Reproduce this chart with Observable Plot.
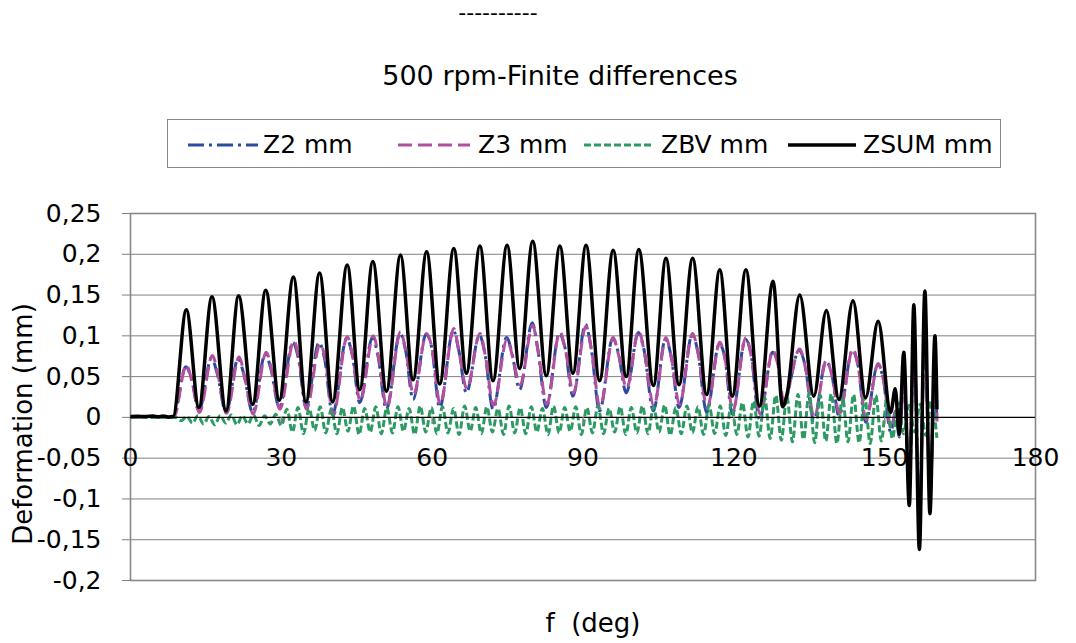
<!DOCTYPE html>
<html><head><meta charset="utf-8">
<script src="https://cdn.jsdelivr.net/npm/d3@7"></script>
<script src="https://cdn.jsdelivr.net/npm/@observablehq/plot@0.6"></script>
<style>
body{margin:0;background:#fff;font-family:"DejaVu Sans",Verdana,sans-serif;}
#wrap{position:relative;width:1076px;height:643px;overflow:hidden;background:#fff;}
#wrap svg.plot{position:absolute;left:0;top:0;}
.abs{position:absolute;white-space:pre;color:#000;line-height:1;}
</style></head><body><div id="wrap"></div>
<script>
// ---- data (deg, mm) ----
const chartTitleTop = "----------";
const chartTitle = "500 rpm-Finite differences";
const xLabel = "f\u00a0 (deg)";
const yLabel = "Deformation (mm)";
const xTicks = [0, 30, 60, 90, 120, 150, 180];
const yTicks = [-0.2, -0.15, -0.1, -0.05, 0, 0.05, 0.1, 0.15, 0.2, 0.25];
const seriesNames = ["Z2 mm", "Z3 mm", "ZBV mm", "ZSUM mm"];

const zsum = [[0,0.001],[1.5,0.0015],[3,0.001],[4.5,0.0018],[5.5,0.0008],[6.5,0.0018],[7.5,0.0005],[8.5,0.001],
[11.1,0.132],[13.6,0.012],[16.2,0.148],[19.0,0.008],[21.5,0.149],[24.3,0.016],[26.9,0.156],[29.6,0.021],
[32.4,0.172],[34.9,0.019],[37.6,0.177],[40.2,0.019],[43.1,0.187],[45.6,0.034],[48.2,0.191],[50.9,0.032],
[53.7,0.199],[56.2,0.046],[58.9,0.203],[61.5,0.041],[64.3,0.207],[66.8,0.054],[69.5,0.210],[72.1,0.045],
[74.9,0.211],[77.4,0.060],[80.0,0.216],[82.7,0.051],[85.4,0.210],[88.0,0.054],[90.6,0.211],[93.3,0.045],
[96.0,0.205],[98.6,0.050],[101.1,0.206],[104.0,0.039],[106.5,0.195],[109.1,0.040],[111.8,0.195],[114.6,0.028],
[117.2,0.181],[119.7,0.026],[122.4,0.181],[125.1,0.014],[127.8,0.167],[129.7,0.013],[130.6,0.029],[133.1,0.150],
[135.9,0.026],[138.4,0.131],[140.9,0.022],[143.7,0.143],[146.2,0.024],[148.7,0.118],[151.2,0.006],[152.1,0.035],
[152.9,-0.021],[153.8,0.080],[154.9,-0.108],[155.8,0.138],[156.9,-0.162],[158.0,0.155],[159.0,-0.118],[160.0,0.100],[160.4,0.010]];

const z3 = [[0,0.000],[4,0.000],[8.6,0.000],
[11.1,0.064],[12.2,0.045],[13.7,0.006],[16.3,0.076],[17.4,0.052],[19.1,0.005],
[21.6,0.074],[22.7,0.050],[24.4,0.004],[27.0,0.080],[28.1,0.057],[29.7,0.010],
[32.5,0.094],[33.6,0.068],[35.0,0.010],[37.7,0.090],[38.8,0.070],[40.3,0.002],
[43.1,0.099],[44.2,0.074],[45.7,0.020],[48.3,0.100],[49.4,0.072],[51.0,0.012],
[53.7,0.105],[54.8,0.080],[56.3,0.028],[58.9,0.103],[60.0,0.084],[61.6,0.016],
[64.3,0.109],[65.4,0.078],[66.9,0.035],[69.5,0.103],[70.6,0.075],[72.2,0.015],
[74.9,0.096],[76.0,0.074],[77.5,0.040],[80.0,0.113],[81.1,0.080],[82.8,0.016],
[85.4,0.105],[86.5,0.083],[88.1,0.030],[90.6,0.112],[91.7,0.082],[93.4,0.012],
[96.0,0.098],[97.1,0.076],[98.7,0.036],[101.1,0.106],[102.2,0.080],[104.1,0.014],
[106.5,0.098],[107.6,0.072],[109.2,0.016],[111.8,0.103],[112.9,0.078],[114.7,0.012],
[117.2,0.092],[118.3,0.070],[119.8,0.008],[122.4,0.098],[123.5,0.074],[125.2,0.004],
[127.8,0.082],[128.9,0.060],[129.9,0.020],[133.1,0.084],[134.2,0.062],[136.0,0.000],
[138.4,0.070],[139.5,0.052],[141.0,0.005],[143.7,0.084],[144.8,0.060],[146.3,-0.003],
[148.7,0.066],[149.8,0.045],[151.3,-0.014],[152.3,0.010],[153.0,-0.018],
[153.8,0.045],[154.9,-0.085],[155.8,0.094],[156.9,-0.118],[158.0,0.107],[159.0,-0.098],[160.0,0.060],[160.4,-0.005]];

const z2 = [[0,0.000],[4,0.000],[8.5,0.000],
[11.0,0.062],[12.1,0.048],[13.6,0.008],[16.1,0.073],[17.2,0.055],[19.0,0.006],
[21.4,0.072],[22.5,0.054],[24.3,0.006],[26.8,0.078],[27.9,0.060],[29.6,0.012],
[32.3,0.092],[33.4,0.072],[34.9,0.012],[37.5,0.092],[38.6,0.072],[40.2,0.004],
[43.0,0.097],[44.1,0.077],[45.6,0.018],[48.1,0.098],[49.2,0.076],[50.9,0.010],
[53.6,0.103],[54.7,0.083],[56.2,0.022],[58.8,0.102],[59.9,0.086],[61.5,0.012],
[64.2,0.107],[65.3,0.082],[66.8,0.030],[69.4,0.101],[70.5,0.078],[72.1,0.010],
[74.8,0.098],[75.9,0.078],[77.4,0.034],[79.9,0.116],[81.0,0.084],[82.7,0.012],
[85.3,0.103],[86.4,0.086],[88.0,0.026],[90.5,0.114],[91.6,0.086],[93.3,0.008],
[95.9,0.097],[97.0,0.080],[98.6,0.030],[101.0,0.104],[102.1,0.084],[104.0,0.008],
[106.4,0.096],[107.5,0.076],[109.1,0.012],[111.7,0.101],[112.8,0.082],[114.6,0.006],
[117.1,0.090],[118.2,0.074],[119.7,0.004],[122.3,0.096],[123.4,0.078],[125.1,-0.002],
[127.7,0.080],[128.8,0.064],[129.8,0.016],[133.0,0.082],[134.1,0.066],[135.9,-0.004],
[138.3,0.068],[139.4,0.056],[140.9,0.002],[143.6,0.082],[144.7,0.064],[146.2,-0.006],
[148.6,0.064],[149.7,0.048],[151.2,-0.018],[152.2,0.008],[152.9,-0.024],
[153.8,0.040],[154.9,-0.080],[155.8,0.090],[156.9,-0.112],[158.0,0.102],[159.0,-0.094],[160.0,0.055],[160.4,-0.008]];

// ZBV: flat start, then values sampled on a regular grid of 1.105 deg from 9.0 deg
const zbvLead = [[0,0.000],[4,0.000],[8.6,0.000]];
const zbvStart = 9.0, zbvStep = 1.105;
const zbvVals = [
0.000,-0.004,0.001,-0.007,0.002,-0.008,0.001,-0.009,0.002,-0.007,0.003,-0.009,0.002,-0.008,0.003,-0.010,0.002,-0.008,0.004,-0.010,
0.010,-0.018,0.012,-0.020,0.011,-0.016,0.013,-0.019,0.010,-0.020,0.012,-0.017,0.014,-0.021,0.011,-0.018,0.013,-0.020,0.012,-0.019,
0.013,-0.017,0.011,-0.021,0.014,-0.018,0.012,-0.020,0.013,-0.019,0.011,-0.021,0.014,-0.017,0.012,-0.020,0.013,-0.018,0.011,-0.021,
0.014,-0.019,0.012,-0.020,0.013,-0.018,0.011,-0.021,0.014,-0.019,0.012,-0.017,0.013,-0.021,0.012,-0.019,0.014,-0.020,0.011,-0.018,
0.013,-0.021,0.012,-0.019,0.014,-0.020,0.013,-0.018,0.015,-0.022,0.012,-0.020,0.014,-0.019,0.013,-0.021,0.015,-0.020,0.014,-0.022,
0.016,-0.021,0.018,-0.024,0.020,-0.023,0.024,-0.026,0.027,-0.028,0.026,-0.030,0.028,-0.027,0.030,-0.031,0.027,-0.029,0.029,-0.032,
0.026,-0.030,0.028,-0.031,0.025,-0.032,0.027,-0.029,0.022,-0.026,0.018,-0.020,0.015,-0.018,0.016,-0.022,0.020,-0.025];

const seriesColors = ["#2C4A9E", "#B0509F", "#2E9A63", "#000000"];
const seriesDash = ["16,5,3,5", "14,6", "7,3", null];
const seriesWidth = [3, 3, 3, 3.5];

// ---- build ----
const toRows = arr => arr.map(([deg, val]) => ({deg, val}));
const zbv = zbvLead.concat(zbvVals.map((v, i) => [zbvStart + i * zbvStep, v]));
const seriesData = [z2, z3, zbv, zsum].map(toRows);
const fmt = d => d === 0 ? "0" : String(d).replace(".", ",");

const lineMarks = seriesData.map((rows, i) => Plot.line(rows, {
  x: "deg", y: "val", stroke: seriesColors[i], strokeWidth: seriesWidth[i],
  strokeDasharray: seriesDash[i] ?? undefined, curve: "monotone-x", strokeLinecap: "butt"
}));

const chart = Plot.plot({
  width: 1076, height: 643,
  marginLeft: 130, marginRight: 41, marginTop: 213, marginBottom: 63,
  x: {domain: [0, 180], axis: null},
  y: {domain: [-0.2, 0.25], axis: null},
  style: {fontFamily: "'DejaVu Sans', Verdana, sans-serif", fontSize: "25px", background: "transparent", color: "#000"},
  marks: [
    Plot.ruleY(yTicks.filter(d => d !== 0), {y: d => d, stroke: "#808080", strokeWidth: 1}),
    Plot.frame({stroke: "#888888", strokeWidth: 1.6}),
    Plot.axisY({ticks: yTicks, tickFormat: fmt, tickSize: 8, tickPadding: 21, stroke: "#808080", fill: "#000", fontSize: 25, label: null}),
    ...lineMarks,
    Plot.ruleY([0], {stroke: "#000", strokeWidth: 1.2}),
    Plot.ruleX(xTicks.filter(d => d > 0 && d < 180), {x: d => d, y1: 0, y2: 0, insetBottom: -7, stroke: "#808080", strokeWidth: 1.5}),
    Plot.text(xTicks, {x: d => d, y: 0, text: d => String(d), dy: 41, fontSize: 25, fill: "#000"}),
    Plot.text([yLabel], {frameAnchor: "left", textAnchor: "middle", text: d => d, rotate: -90, dx: -107, dy: 27, fontSize: 26, fill: "#000"}),
    Plot.text([xLabel], {frameAnchor: "bottom", textAnchor: "middle", text: d => d, dx: 10, dy: 51, fontSize: 26, fill: "#000"})
  ]
});
chart.classList.add("plot");
const wrap = document.getElementById("wrap");
wrap.appendChild(chart);

// ---- titles and legend ----
function addText(txt, left, baseline, size, anchor) {
  const d = document.createElement("div");
  d.className = "abs";
  d.textContent = txt;
  d.style.fontSize = size + "px";
  d.style.top = (baseline - 0.846 * size) + "px";
  d.style.left = left + "px";
  if (anchor === "middle") d.style.transform = "translateX(-50%)";
  wrap.appendChild(d);
  return d;
}
addText(chartTitleTop, 498, 21, 22, "middle");
addText(chartTitle, 560, 85, 27, "middle");

const box = document.createElement("div");
box.style.cssText = "position:absolute;left:167px;top:119px;width:834px;height:49px;border:1px solid #888;box-sizing:border-box;";
wrap.appendChild(box);
const legX = [[188, 258, 263], [398, 470, 478], [584, 653, 661], [788, 856, 863]];
const ns = "http://www.w3.org/2000/svg";
const lsvg = document.createElementNS(ns, "svg");
lsvg.setAttribute("width", 1076); lsvg.setAttribute("height", 643);
lsvg.style.cssText = "position:absolute;left:0;top:0;pointer-events:none;";
wrap.appendChild(lsvg);
seriesNames.forEach((name, i) => {
  const [x1, x2, tx] = legX[i];
  const ln = document.createElementNS(ns, "line");
  ln.setAttribute("x1", x1); ln.setAttribute("x2", x2);
  ln.setAttribute("y1", 145); ln.setAttribute("y2", 145);
  ln.setAttribute("stroke", seriesColors[i]);
  ln.setAttribute("stroke-width", seriesWidth[i]);
  if (seriesDash[i]) ln.setAttribute("stroke-dasharray", seriesDash[i]);
  lsvg.appendChild(ln);
  addText(name, tx, 153, 25, "start");
});
</script></body></html>
